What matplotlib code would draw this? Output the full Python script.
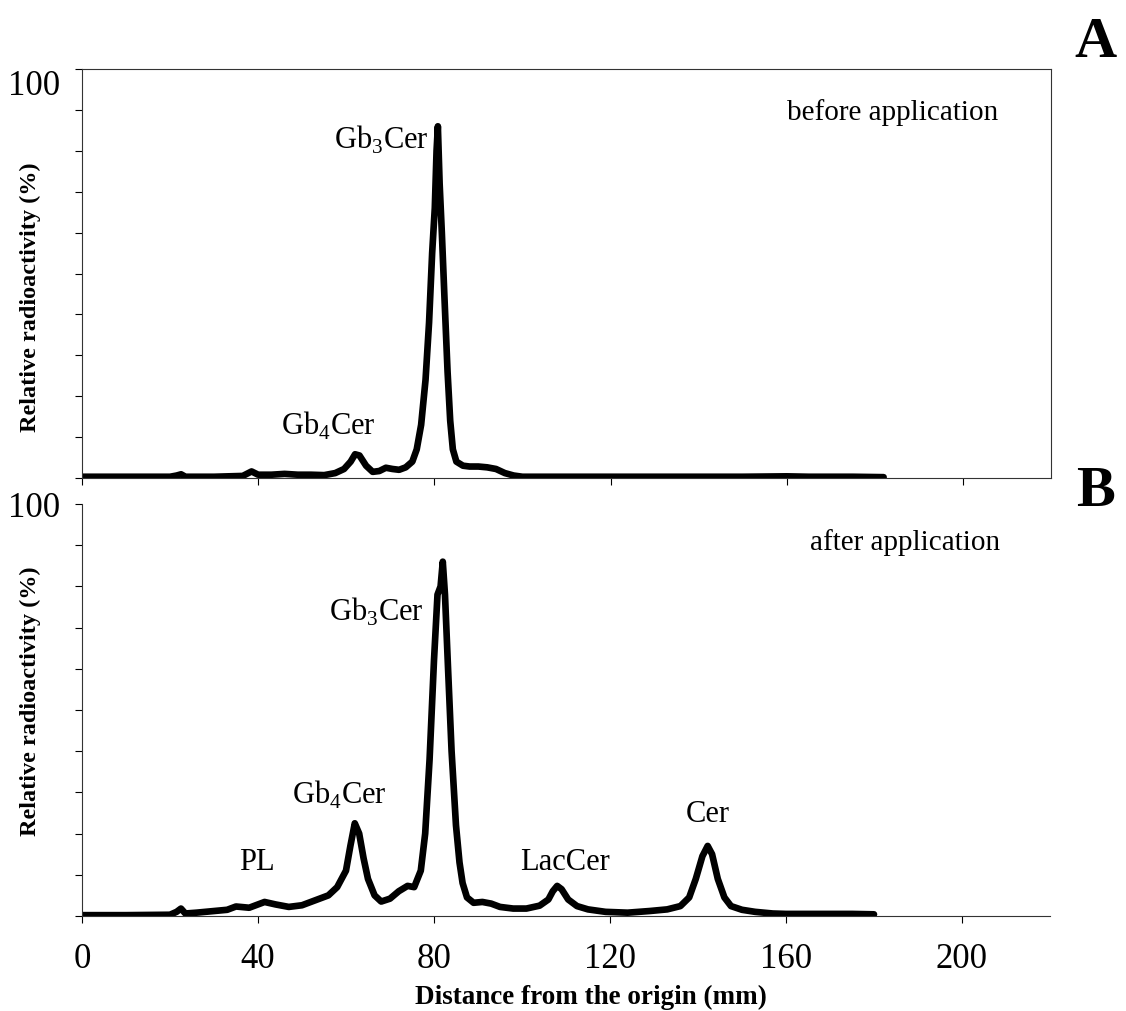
import matplotlib
matplotlib.use("Agg")
import matplotlib.pyplot as plt

plt.rcParams['font.family'] = ['Liberation Serif', 'DejaVu Serif']
plt.rcParams['mathtext.fontset'] = 'custom'
plt.rcParams['mathtext.rm'] = 'Liberation Serif'

# Panel A: before application (distance mm, relative radioactivity %)
xA = [0, 10, 20, 21.5, 22.5, 23.5, 30, 36.5, 38.5, 40, 43, 46, 49, 52, 55, 57.5, 59.5, 61, 62, 63,
      64.5, 66, 67.5, 69, 70.5, 72, 73.5, 75, 76, 77, 78, 78.8, 79.5, 80.1, 80.5, 80.8, 81.2, 81.7,
      82.3, 83, 83.6, 84.2, 85, 86.5, 88, 90, 92, 94, 96, 98, 100, 110, 120, 130, 140, 150, 160,
      165, 170, 175, 182]
yA = [0.3, 0.3, 0.3, 0.6, 0.9, 0.3, 0.3, 0.5, 1.6, 0.8, 0.8, 1.0, 0.8, 0.8, 0.7, 1.2, 2.2, 4.0, 5.8, 5.5,
      3.0, 1.5, 1.7, 2.5, 2.2, 2.0, 2.6, 4.0, 7, 13, 24, 38, 55, 66, 80, 86, 72, 60,
      44, 26, 14, 7, 4, 3.0, 2.8, 2.8, 2.6, 2.2, 1.2, 0.6, 0.3, 0.3, 0.3, 0.3, 0.3, 0.3, 0.4,
      0.3, 0.3, 0.3, 0.2]

# Panel B: after application
xB = [0, 10, 20, 21.5, 22.5, 23.5, 26, 30, 33, 35, 38, 41.5, 44, 47, 50, 53, 56, 58, 60, 61, 62, 63,
      64, 65, 66.5, 68, 70, 72, 74, 75.5, 77, 78, 79, 80, 80.8, 81.5, 82, 82.5, 83.2, 84, 85, 85.8,
      86.5, 87.5, 89, 91, 93, 95, 98, 101, 104, 106, 107, 108, 109, 110.5, 112.5, 115, 119, 124,
      129, 133, 136, 138, 139.5, 141, 142.2, 143.2, 144.5, 146, 147.5, 150, 153, 157, 160, 165,
      170, 175, 180]
yB = [0.2, 0.2, 0.3, 1.0, 1.8, 0.6, 0.8, 1.2, 1.5, 2.3, 2.0, 3.4, 2.8, 2.2, 2.6, 3.8, 5.0, 7.0, 11, 17, 22.5, 20,
      14, 9, 5, 3.5, 4.2, 6.0, 7.3, 7.0, 11, 20, 38, 62, 78, 80, 86, 78, 60, 40, 22, 13,
      8, 4.5, 3.2, 3.4, 3.0, 2.2, 1.8, 1.8, 2.5, 4.0, 6.0, 7.3, 6.5, 4.0, 2.4, 1.6, 1.0, 0.8,
      1.2, 1.6, 2.4, 4.5, 9, 14.5, 17.0, 15, 9, 4.5, 2.4, 1.5, 1.0, 0.6, 0.5, 0.5,
      0.5, 0.5, 0.4]

x_ticks = [0, 40, 80, 120, 160, 200]
y_ticks = [0, 10, 20, 30, 40, 50, 60, 70, 80, 90, 100]
y_labels = ['', '', '', '', '', '', '', '', '', '', '100']

fig = plt.figure(figsize=(11.26, 10.12), dpi=100)
axA = fig.add_axes([0.0728, 0.5267, 0.8606, 0.4041])
axB = fig.add_axes([0.0728, 0.0939, 0.8597, 0.4071])

for ax, x, y in ((axA, xA, yA), (axB, xB, yB)):
    ax.plot(x, y, color='black', lw=4.8, solid_joinstyle='round', solid_capstyle='round')
    ax.set_xlim(0, 220)
    ax.set_ylim(0, 100)
    ax.set_xticks(x_ticks)
    ax.set_yticks(y_ticks)
    ax.set_yticklabels(y_labels)
    ax.tick_params(direction='out', length=5, width=0.8, labelsize=25)
    ax.tick_params(axis='x', pad=14)
    ax.tick_params(axis='y', pad=11)
    for s in ax.spines.values():
        s.set_linewidth(0.8)
        s.set_color('#333333')

axA.set_xticklabels([])
for lab in axA.get_yticklabels():
    lab.set_verticalalignment('top')
axB.spines['top'].set_visible(False)
axB.spines['right'].set_visible(False)

label_kw = dict(fontsize=22, ha='center', va='center')
axA.text(68, 83, r'Gb$_{\mathregular{3}}$Cer', **label_kw)
axA.text(56, 13, r'Gb$_{\mathregular{4}}$Cer', **label_kw)
axA.text(184, 89.5, 'before application', fontsize=21, ha='center', va='center')

axB.text(67, 74, r'Gb$_{\mathregular{3}}$Cer', **label_kw)
axB.text(58.6, 29.6, r'Gb$_{\mathregular{4}}$Cer', **label_kw)
axB.text(39.8, 13.3, 'PL', **label_kw)
axB.text(109.8, 13.3, 'LacCer', **label_kw)
axB.text(142.3, 24.8, 'Cer', **label_kw)
axB.text(187, 91, 'after application', fontsize=21, ha='center', va='center')

fig.text(0.9725, 0.958, 'A', fontsize=42, fontweight='bold', ha='center', va='center')
fig.text(0.9725, 0.514, 'B', fontsize=42, fontweight='bold', ha='center', va='center')

fig.text(0.0266, 0.706, 'Relative radioactivity (%)', rotation=90, fontsize=17.5,
         fontweight='bold', ha='center', va='center')
fig.text(0.0266, 0.307, 'Relative radioactivity (%)', rotation=90, fontsize=17.5,
         fontweight='bold', ha='center', va='center')
fig.text(0.525, 0.014, 'Distance from the origin (mm)', fontsize=19.5,
         fontweight='bold', ha='center', va='center')

fig.savefig('out.png', dpi=100)
